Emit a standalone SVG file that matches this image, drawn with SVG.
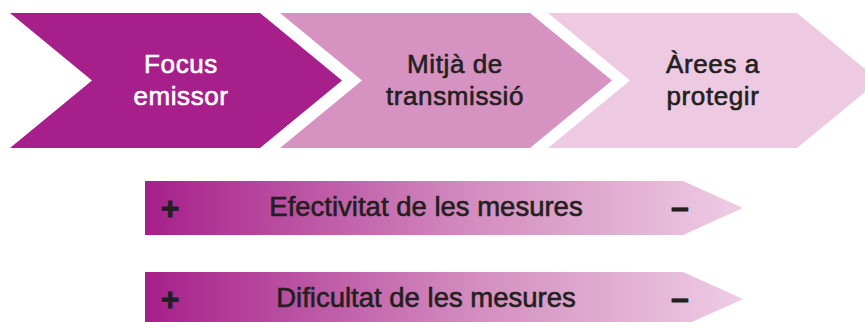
<svg xmlns="http://www.w3.org/2000/svg" width="865" height="322" viewBox="0 0 865 322">
<defs>
<linearGradient id="g" x1="145" y1="0" x2="743" y2="0" gradientUnits="userSpaceOnUse">
<stop offset="0" stop-color="#A61F8A"/>
<stop offset="0.55" stop-color="#D38DBF"/>
<stop offset="1" stop-color="#EECCE4"/>
</linearGradient>
<style>
text{font-family:"Liberation Sans",Arial,sans-serif;font-size:26px;letter-spacing:0.6px;text-anchor:middle;stroke-width:0.6px}
.w{fill:#FFFFFF;stroke:#FFFFFF}
.d{fill:#231F20;stroke:#231F20}
.b{font-size:27.5px;letter-spacing:0}
.sym{font-size:32px;font-weight:bold;fill:#231F20;stroke:#231F20;stroke-width:0.8px;letter-spacing:0}
</style>
</defs>
<g id="focus">
<polygon points="10,13 260,13 342,80.5 260,148 10,148 92,80.5" fill="#A61F8A"/>
<text class="w" x="181" y="73">Focus</text>
<text class="w" x="181" y="105">emissor</text>
</g>
<g id="mitja">
<polygon points="280,13 530,13 612,80.5 530,148 280,148 362,80.5" fill="#D693C2"/>
<text class="d" x="455" y="73">Mitjà de</text>
<text class="d" x="455" y="105">transmissió</text>
</g>
<g id="arees">
<polygon points="548,13 797,13 879,80.5 797,148 548,148 630,80.5" fill="#EDC9E2"/>
<text class="d" x="713" y="73">Àrees a</text>
<text class="d" x="713" y="105">protegir</text>
</g>
<g id="efectivitat">
<polygon points="145,181 683,181 743,208 683,235 145,235" fill="url(#g)"/>
<text class="sym" x="170" y="219">+</text>
<text class="d b" x="426" y="216">Efectivitat de les mesures</text>
<text class="sym" x="680" y="218">–</text>
</g>
<g id="dificultat">
<polygon points="145,272 683,272 743,299 683,326 145,326" fill="url(#g)"/>
<text class="sym" x="170" y="310">+</text>
<text class="d b" x="426" y="307">Dificultat de les mesures</text>
<text class="sym" x="680" y="309">–</text>
</g>
<g id="connectors"/>
</svg>
